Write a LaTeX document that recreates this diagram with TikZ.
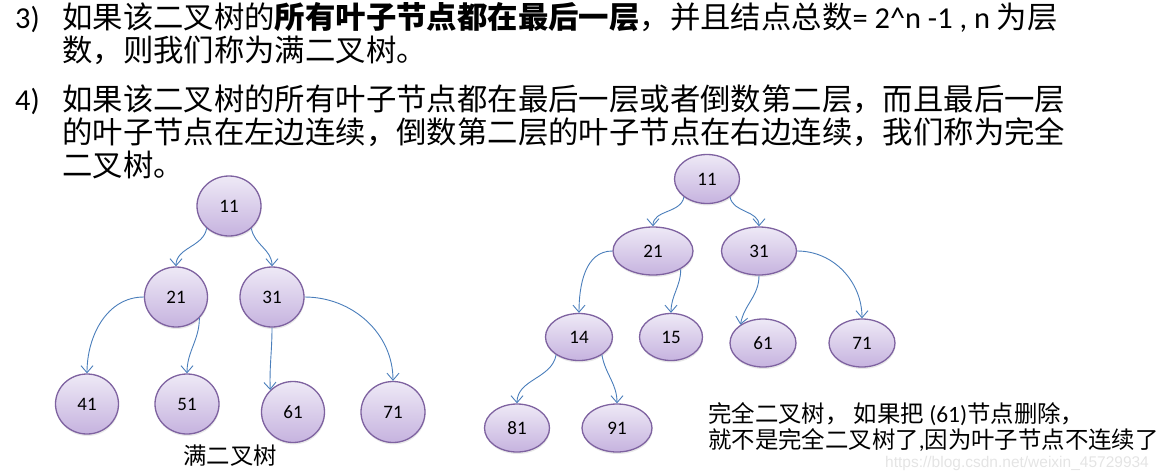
\documentclass[tikz,border=0pt]{standalone}
\usepackage{fontspec}
\setmainfont{Carlito}
\newfontfamily\cjk{Noto Sans CJK SC}
\newfontfamily\wmfont{Liberation Sans}
\usetikzlibrary{shapes.geometric,arrows.meta,shadows}
\definecolor{edgeblue}{HTML}{4A7EBB}
\definecolor{nodeborder}{HTML}{7E62A0}
\definecolor{nodetop}{HTML}{EEE9F6}
\definecolor{nodebot}{HTML}{C6B3DF}
\definecolor{wmgray}{HTML}{E4E4E4}
\begin{document}
\begin{tikzpicture}[x=1pt,y=-1pt,
  treenode/.style={ellipse, draw=nodeborder, line width=1.3pt, top color=nodetop, bottom color=nodebot,
    inner sep=0pt, font=\fontsize{19}{19}\selectfont,
    drop shadow={shadow xshift=0.5pt, shadow yshift=-2pt, opacity=0.18}},
  link/.style={draw=edgeblue, line width=0.9pt, -{Straight Barb[length=7pt,width=12pt]}},
  para/.style={anchor=base west, inner sep=0pt, font=\fontsize{30.4}{30.4}\selectfont},
  caption/.style={anchor=base west, inner sep=0pt, font=\fontsize{23.4}{23.4}\selectfont\cjk},
]
\useasboundingbox (0,0) rectangle (1165,472);

% ---- text paragraphs ----
\node[para] (n3) at (15,28) {3)};
\node[para] (l1) at (62,28) {{\cjk 如果该二叉树的}{\cjk\bfseries 所有叶子节点都在最后一层}{\cjk ，并且结点总数}= 2\textasciicircum n -1 , n {\cjk 为层}};
\node[para] (l2) at (62,61) {\cjk 数，则我们称为满二叉树。};
\node[para] (n4) at (15,110) {4)};
\node[para] (l4) at (62,110) {\cjk 如果该二叉树的所有叶子节点都在最后一层或者倒数第二层，而且最后一层};
\node[para] (l5) at (62,143) {\cjk 的叶子节点在左边连续，倒数第二层的叶子节点在右边连续，我们称为完全};
\node[para] (l6) at (62,176) {\cjk 二叉树。};

% ---- full binary tree ----
\node[treenode, minimum width=64pt, minimum height=60pt] (a11) at (229,206) {11};
\node[treenode, minimum width=63pt, minimum height=60pt] (a21) at (176,297) {21};
\node[treenode, minimum width=64pt, minimum height=60pt] (a31) at (272,297) {31};
\node[treenode, minimum width=63pt, minimum height=60pt] (a41) at (87,404) {41};
\node[treenode, minimum width=64pt, minimum height=60pt] (a51) at (187,404) {51};
\node[treenode, minimum width=63pt, minimum height=61pt] (a61) at (293,412) {61};
\node[treenode, minimum width=64pt, minimum height=61pt] (a71) at (393,412) {71};

\draw[link] (a11.225) to[out=-100,in=90] (a21.north);
\draw[link] (a11.315) to[out=-80,in=90] (a31.north);
\draw[link] (a21.west) to[out=180,in=90] (a41.north);
\draw[link] (a21.318) to[out=-90,in=90] (a51.north);
\draw[link] (a31.south) to[out=-90,in=92] (a61.136);
\draw[link] (a31.east) to[out=0,in=90] (a71.north);

\node[caption, anchor=base] (cap1) at (230,464) {满二叉树};

% ---- complete binary tree ----
\node[treenode, minimum width=65pt, minimum height=49pt] (b11) at (707,179) {11};
\node[treenode, minimum width=80pt, minimum height=48pt] (b21) at (653,251) {21};
\node[treenode, minimum width=75pt, minimum height=48pt] (b31) at (759,251) {31};
\node[treenode, minimum width=67pt, minimum height=47pt] (b14) at (579,337) {14};
\node[treenode, minimum width=63pt, minimum height=47pt] (b15) at (671,337) {15};
\node[treenode, minimum width=66pt, minimum height=48pt] (b61) at (763,343) {61};
\node[treenode, minimum width=66pt, minimum height=48pt] (b71) at (862,343) {71};
\node[treenode, minimum width=65pt, minimum height=48pt] (b81) at (517,428) {81};
\node[treenode, minimum width=70pt, minimum height=48pt] (b91) at (617,428) {91};

\draw[link] (b11.218) to[out=-100,in=90] (b21.north);
\draw[link] (b11.322) to[out=-80,in=90] (b31.north);
\draw[link] (b21.west) to[out=180,in=90] (b14.north);
\draw[link] (b21.327) to[out=-90,in=90] (b15.north);
\draw[link] (b31.south) to[out=-90,in=80] (b61.141);
\draw[link] (b31.east) to[out=0,in=90] (b71.north);
\draw[link] (b14.218) to[out=-100,in=90] (b81.north);
\draw[link] (b14.322) to[out=-80,in=90] (b91.north);

% ---- note ----
\node[caption] (c1) at (708,422) {完全二叉树， 如果把 {\rmfamily (61)}节点删除，};
\node[caption] (c2) at (708,448) {就不是完全二叉树了{\rmfamily ,}因为叶子节点不连续了};
\node[anchor=base west, inner sep=0pt, font=\fontsize{15.5}{15.5}\selectfont\wmfont, text=wmgray] (wm) at (885,467) {https://blog.csdn.net/weixin\_45729934};
\end{tikzpicture}
\end{document}
